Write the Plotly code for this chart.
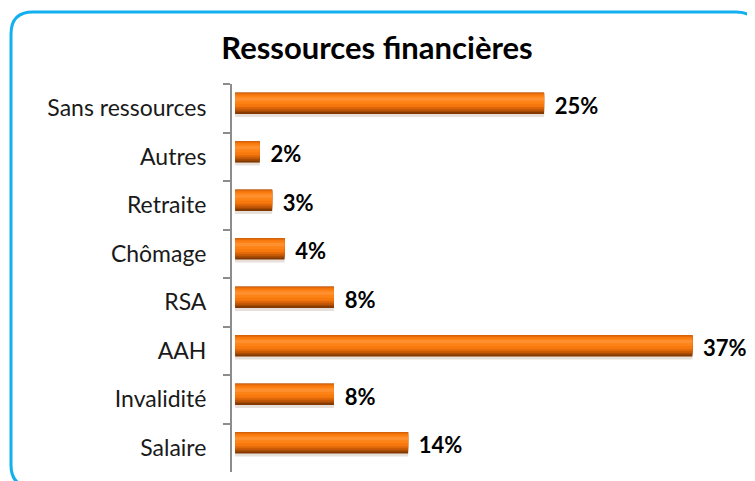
import plotly.graph_objects as go

categories = ["Sans ressources", "Autres", "Retraite", "Chômage", "RSA", "AAH", "Invalidité", "Salaire"]
values = [25, 2, 3, 4, 8, 37, 8, 14]
labels = ["25%", "2%", "3%", "4%", "8%", "37%", "8%", "14%"]
title_text = "Ressources financières"

# page body has an 8px margin, so the figure is drawn 8px in from the corner
OFF = 8
W, H = 755 - OFF, 481 - OFF
ML, MR, MT, MB = 232 - OFF, 15, 84 - OFF, 9
PW, PH = W - ML - MR, H - MT - MB

def px(x):
    return (x - OFF - ML) / PW

def py(y):
    return (H - MB - (y - OFF)) / PH

fig = go.Figure()

bw = 0.44
top = -bw / 2 - 0.1

def layer(a, b, color):
    fig.add_trace(go.Bar(y=categories, x=values, orientation="h",
                         width=(b - a) * bw, offset=top + a * bw,
                         marker=dict(color=color, line=dict(width=0)),
                         hoverinfo="skip", showlegend=False))

# shadow
fig.add_trace(go.Bar(y=categories, x=values, orientation="h", width=bw, offset=top + 0.06,
                     marker=dict(color="rgba(175,150,130,0.30)", line=dict(width=0)),
                     hoverinfo="skip", showlegend=False))
layer(0.00, 1.00, "#823800")
layer(0.00, 0.92, "#a04804")
layer(0.00, 0.84, "#c45806")
layer(0.00, 0.75, "#e0680a")
layer(0.07, 0.66, "#f7790e")
layer(0.14, 0.52, "#fd8316")
layer(0.22, 0.38, "#ff9030")

# data labels
fig.add_trace(go.Scatter(y=categories, x=values, mode="text",
                         text=["  " + t for t in labels], textposition="middle right",
                         textfont=dict(family="Lato", size=22, color="#000000"),
                         texttemplate="<b>%{text}</b>",
                         hoverinfo="skip", showlegend=False, cliponaxis=False))

# rounded frame
x0, x1 = px(11), px(758)
y0, y1 = py(12), py(487)
rx, ry = 22 / PW, 22 / PH
path = (f"M {x0+rx},{y0} L {x1-rx},{y0} Q {x1},{y0} {x1},{y0-ry} "
        f"L {x1},{y1+ry} Q {x1},{y1} {x1-rx},{y1} L {x0+rx},{y1} "
        f"Q {x0},{y1} {x0},{y1+ry} L {x0},{y0-ry} Q {x0},{y0} {x0+rx},{y0} Z")
fig.add_shape(type="path", path=path, xref="paper", yref="paper",
              line=dict(color="#12b0ee", width=3), layer="above")

fig.update_layout(
    width=W, height=H,
    margin=dict(l=ML, r=MR, t=MT, b=MB),
    paper_bgcolor="white", plot_bgcolor="white",
    barmode="overlay",
    showlegend=False,
    title=dict(text="<b>" + title_text + "</b>", x=(377 - OFF) / W, xref="container", xanchor="center",
               y=1 - (48 - OFF) / H, yref="container", yanchor="middle",
               font=dict(family="Lato", size=31, color="#000000")),
    xaxis=dict(range=[-0.25, 40.85], visible=False, showgrid=False, zeroline=False),
    yaxis=dict(categoryorder="array", categoryarray=categories, autorange="reversed",
               showline=True, linecolor="#8c8c8c", linewidth=2,
               ticks="outside", tickson="boundaries", ticklen=7, tickcolor="#8c8c8c", tickwidth=2,
               tickfont=dict(family="Lato", size=23, color="#1a1a1a"),
               ticklabelstandoff=19, showgrid=False, zeroline=False),
)

fig.write_html("out.html")
